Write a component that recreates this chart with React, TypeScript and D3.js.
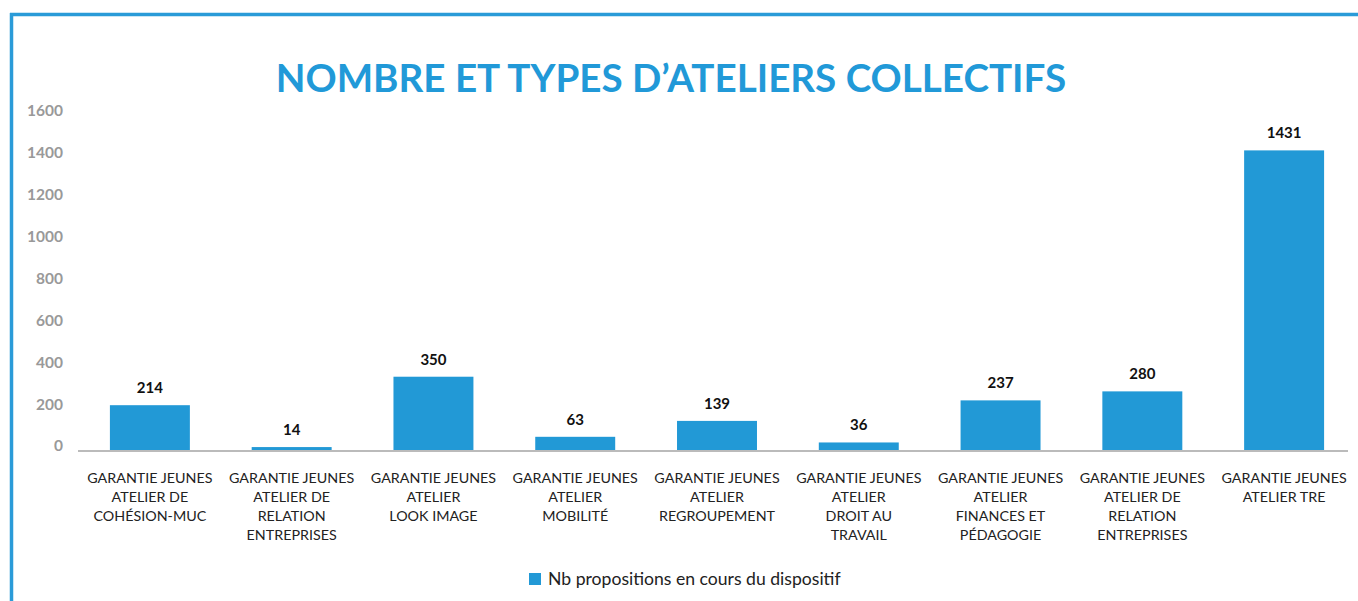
import React from 'react';
import * as d3 from 'd3';

const categories = [
  ['GARANTIE JEUNES', 'ATELIER DE', 'COHÉSION-MUC'],
  ['GARANTIE JEUNES', 'ATELIER DE', 'RELATION', 'ENTREPRISES'],
  ['GARANTIE JEUNES', 'ATELIER', 'LOOK IMAGE'],
  ['GARANTIE JEUNES', 'ATELIER', 'MOBILITÉ'],
  ['GARANTIE JEUNES', 'ATELIER', 'REGROUPEMENT'],
  ['GARANTIE JEUNES', 'ATELIER', 'DROIT AU', 'TRAVAIL'],
  ['GARANTIE JEUNES', 'ATELIER', 'FINANCES ET', 'PÉDAGOGIE'],
  ['GARANTIE JEUNES', 'ATELIER DE', 'RELATION', 'ENTREPRISES'],
  ['GARANTIE JEUNES', 'ATELIER TRE'],
];
const values = [214, 14, 350, 63, 139, 36, 237, 280, 1431];
const yTicks = [0, 200, 400, 600, 800, 1000, 1200, 1400, 1600];
const title = 'NOMBRE ET TYPES D’ATELIERS COLLECTIFS';
const legendLabel = 'Nb propositions en cours du dispositif';

const W = 1358;
const H = 601;
const blue = '#2299d6';
const font = 'Lato, "Noto Sans", sans-serif';

const App = () => {
  const idx = categories.map((_, i) => i);
  const x = d3.scaleBand<number>().domain(idx).range([79, 1355]).paddingInner(0.436).paddingOuter(0.218);
  const y = d3.scaleLinear().domain([0, 1600]).range([450, 115]);

  return (
    <svg width={W} height={H} style={{ position: 'absolute', left: 0, top: 0 }} fontFamily={font}>
      <rect width={W} height={H} fill="#fff" />
      {/* frame */}
      <line x1={10} x2={W} y1={14.5} y2={14.5} stroke="#2a9bd8" strokeWidth={3.5} />
      <line x1={11.5} x2={11.5} y1={13} y2={H} stroke="#2a9bd8" strokeWidth={3.5} />

      <text x={671} y={92} textAnchor="middle" fill="#2199d8" fontSize={38.6} fontWeight={700}>
        {title}
      </text>

      {/* y tick labels */}
      {yTicks.map(t => (
        <text key={t} x={63} y={y(t) - 4} dy="0.35em" textAnchor="end" fill="#999" fontSize={15.5} fontWeight={700}>
          {t}
        </text>
      ))}

      {/* bars */}
      {values.map((v, i) => (
        <g key={i}>
          <rect x={x(i)} y={y(v)} width={x.bandwidth()} height={y(0) - y(v)} fill={blue} />
          <text x={(x(i) as number) + x.bandwidth() / 2} y={y(v) - 12} textAnchor="middle" fill="#111" fontSize={15} fontWeight={700}>
            {v}
          </text>
        </g>
      ))}

      {/* baseline */}
      <line x1={78} x2={1348} y1={451} y2={451} stroke="#bbb" strokeWidth={2} />

      {/* category labels */}
      {categories.map((lines, i) => (
        <text key={i} textAnchor="middle" fill="#222" fontSize={14.3}>
          {lines.map((l, j) => (
            <tspan key={j} x={(x(i) as number) + x.bandwidth() / 2} y={483 + j * 19}>
              {l}
            </tspan>
          ))}
        </text>
      ))}

      {/* legend */}
      <rect x={529} y={573} width={12} height={12} fill={blue} />
      <text x={548} y={585} fill="#222" fontSize={17.6}>
        {legendLabel}
      </text>
    </svg>
  );
};

export default App;
